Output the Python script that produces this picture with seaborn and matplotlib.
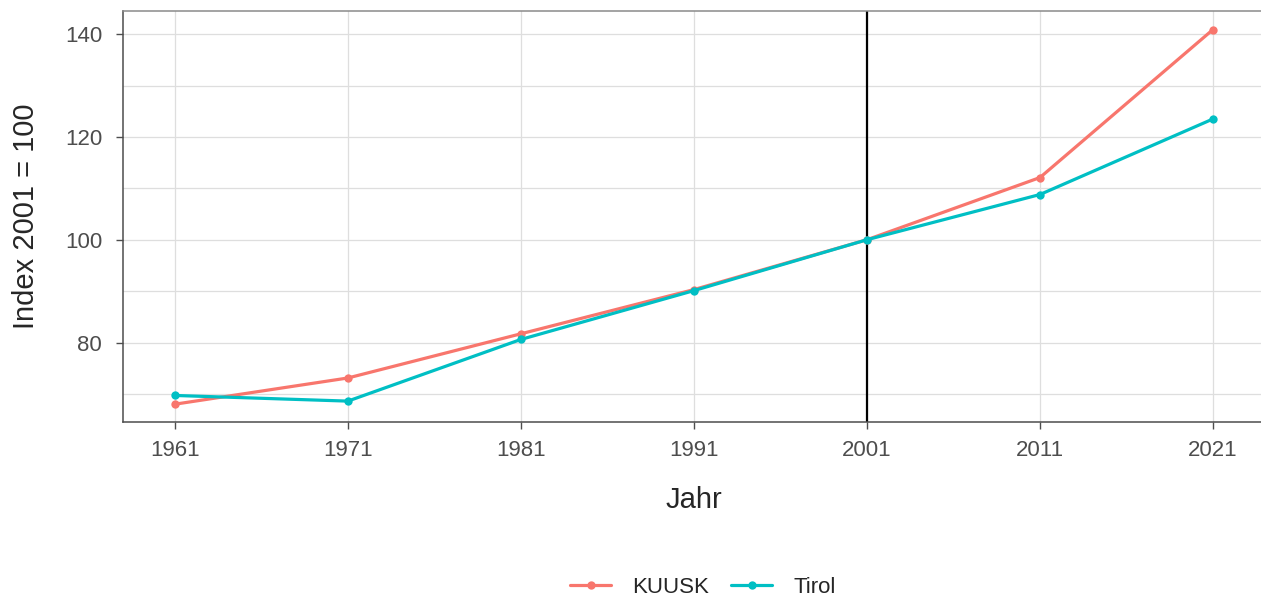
import pandas as pd
import matplotlib.pyplot as plt
import seaborn as sns

# Data
jahre = [1961, 1971, 1981, 1991, 2001, 2011, 2021]
kuusk = [68.0, 73.1, 81.7, 90.3, 100.0, 112.1, 140.9]
tirol = [69.7, 68.6, 80.6, 90.1, 100.0, 108.8, 123.5]
regionen = ["KUUSK", "Tirol"]
farben = ["#F8766D", "#00BFC4"]

df = pd.DataFrame({
    "Jahr": jahre * 2,
    "Index": kuusk + tirol,
    "Region": [regionen[0]] * len(jahre) + [regionen[1]] * len(jahre),
})

sns.set_style("white")
plt.rcParams["font.family"] = ["Liberation Sans", "DejaVu Sans"]
plt.rcParams.update({
    "xtick.bottom": True, "ytick.left": True,
    "xtick.major.size": 5, "ytick.major.size": 5,
    "xtick.major.width": 1.0, "ytick.major.width": 1.0,
    "xtick.color": "#4d4d4d", "ytick.color": "#4d4d4d",
})

fig = plt.figure(figsize=(12.61, 5.96), dpi=100)
# right border sits just outside the picture, as in the reference
ax = fig.add_axes([0.0975, 0.2925, 0.9056, 0.689])

# grid (major + minor horizontal, major vertical)
for y in [70, 80, 90, 100, 110, 120, 130, 140]:
    ax.axhline(y, color="#dedede", lw=0.9, zorder=0)
for x in jahre:
    ax.axvline(x, color="#dedede", lw=0.9, zorder=0)

ax.axvline(2001, color="black", lw=1.6, zorder=1)

sns.lineplot(data=df, x="Jahr", y="Index", hue="Region", palette=farben,
             marker="o", markersize=6, markeredgewidth=0, linewidth=2.3,
             ax=ax, zorder=3)

ax.set_xlim(1958, 2024)
ax.set_ylim(64.6, 144.5)
ax.set_xticks(jahre)
ax.set_yticks([80, 100, 120, 140])
ax.tick_params(axis="both", labelsize=16, labelcolor="#4d4d4d")
ax.tick_params(axis="x", pad=8)
ax.tick_params(axis="y", pad=10)
ax.set_xlabel("Jahr", fontsize=21, labelpad=18)
ax.set_ylabel("Index 2001 = 100", fontsize=21, labelpad=18)

for side in ["left", "bottom"]:
    ax.spines[side].set_color("#4d4d4d")
    ax.spines[side].set_linewidth(1.1)
for side in ["top", "right"]:
    ax.spines[side].set_color("#8a8a8a")
    ax.spines[side].set_linewidth(1.1)

handles, labels = ax.get_legend_handles_labels()
ax.get_legend().remove()
fig.legend(handles, labels, loc="center", bbox_to_anchor=(0.5574, 0.015), ncol=2,
           frameon=False, fontsize=16, handlelength=1.85, columnspacing=0.98,
           handletextpad=0.95, borderpad=0)

fig.savefig("out.png", dpi=100)
